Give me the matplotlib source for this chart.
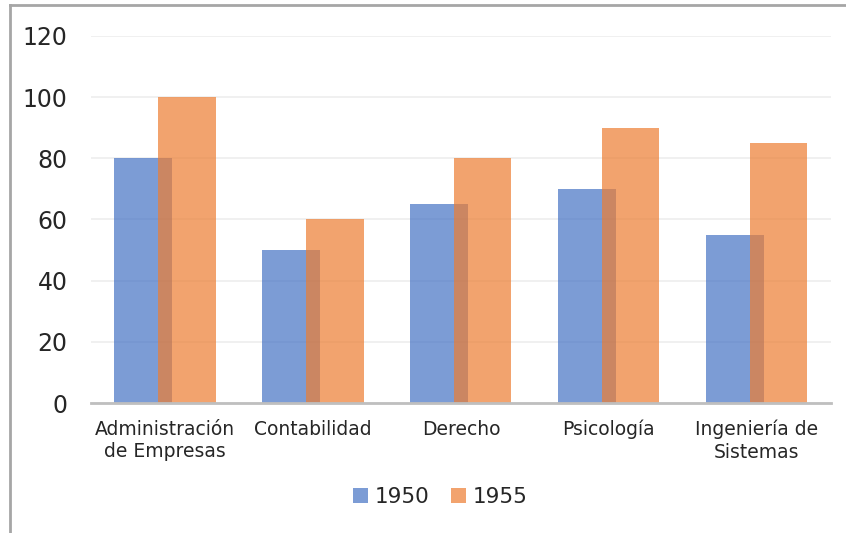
import matplotlib.pyplot as plt
from matplotlib.lines import Line2D
import numpy as np

carreras = ['Administración\nde Empresas', 'Contabilidad', 'Derecho', 'Psicología',
            'Ingeniería de\nSistemas']
valores_1950 = [80, 50, 65, 70, 55]
valores_1955 = [100, 60, 80, 90, 85]
anios = ['1950', '1955']

plt.rcParams['font.family'] = ['DejaVu Sans']
texto = '#262626'

fig = plt.figure(figsize=(8.46, 5.33), dpi=100)
ax = fig.add_axes([0.1076, 0.2439, 0.8744, 0.6886])

x = np.arange(len(carreras))
ancho = 0.39
ax.bar(x - 0.147, valores_1950, ancho, color='#4472C4', alpha=0.7, label=anios[0], zorder=2)
ax.bar(x + 0.147, valores_1955, ancho, color='#ED7D31', alpha=0.7, label=anios[1], zorder=3)

ax.set_xlim(-0.5, len(carreras) - 0.5)
ax.set_ylim(0, 120)
ax.set_yticks(range(0, 121, 20))
ax.yaxis.grid(True, color='#ededed', linewidth=1.2, zorder=0)
ax.set_axisbelow(True)

for s in ['top', 'right', 'left']:
    ax.spines[s].set_visible(False)
ax.spines['bottom'].set_color('#bfbfbf')
ax.spines['bottom'].set_linewidth(2)
ax.spines['bottom'].set_zorder(4)

ax.set_xticks(x)
ax.set_xticklabels(carreras, fontsize=13.5, color=texto, linespacing=1.25)
ax.tick_params(axis='x', length=0, pad=12)
ax.tick_params(axis='y', length=0, pad=17, labelsize=17, labelcolor=texto)

ax.legend(loc='center', bbox_to_anchor=(0.472, -0.255), ncol=2, frameon=False,
          fontsize=15.5, handlelength=0.7, handleheight=0.7, handletextpad=0.3,
          columnspacing=1.0, labelcolor=texto)

# chart border
fig.add_artist(Line2D([0.012, 0.012], [0, 0.99], color='#a6a6a6', linewidth=2))
fig.add_artist(Line2D([0.012, 1.0], [0.99, 0.99], color='#a6a6a6', linewidth=2))

fig.savefig('out.png', dpi=100)
